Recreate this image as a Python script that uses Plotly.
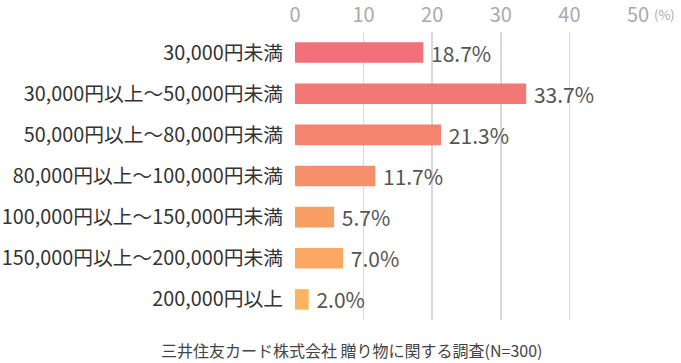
import plotly.graph_objects as go

categories = [
    "30,000円未満",
    "30,000円以上～50,000円未満",
    "50,000円以上～80,000円未満",
    "80,000円以上～100,000円未満",
    "100,000円以上～150,000円未満",
    "150,000円以上～200,000円未満",
    "200,000円以上",
]
values = [18.7, 33.7, 21.3, 11.7, 5.7, 7.0, 2.0]
bar_colors = ["#F0717A", "#F27775", "#F4846F", "#F6906A", "#F99F64", "#FBA862", "#FDB35F"]
tick_vals = [0, 10, 20, 30, 40, 50]
source_text = "三井住友カード株式会社 贈り物に関する調査(N=300)"

FONT = "Noto Sans CJK JP"

fig = go.Figure(go.Bar(
    x=values,
    y=categories,
    orientation="h",
    marker=dict(color=bar_colors, line=dict(width=0)),
    text=[f" {v:.1f}%" for v in values],
    textposition="outside",
    constraintext="none",
    textfont=dict(family=FONT, size=21, color="#555555"),
    cliponaxis=False,
    hoverinfo="skip",
))

fig.update_layout(
    width=681, height=363,
    margin=dict(l=295, r=43, t=32, b=43, autoexpand=False),
    paper_bgcolor="white", plot_bgcolor="white",
    bargap=0.5,
    showlegend=False,
    font=dict(family=FONT),
    xaxis=dict(
        side="top", range=[0, 50], tickvals=tick_vals,
        showgrid=True, gridcolor="#d9d9d9", gridwidth=1.5,
        zeroline=False, showline=False, automargin=False,
        tickfont=dict(family=FONT, size=20, color="#aaaaaa"),
        ticks="", ticklabelstandoff=5,
    ),
    yaxis=dict(
        autorange="reversed", showgrid=False, zeroline=False, showline=False,
        automargin=False,
        tickfont=dict(family=FONT, size=19.8, color="#333333"),
        ticks="", ticklabelstandoff=11,
    ),
    annotations=[
        dict(text="(%)", xref="paper", yref="paper", x=1.0, y=1.0, xshift=14,
             yshift=18, xanchor="left", yanchor="middle", showarrow=False,
             font=dict(family=FONT, size=13, color="#aaaaaa")),
        dict(text=source_text, xref="paper", yref="paper", x=(352 - 295) / 343, y=0,
             yshift=-30, xanchor="center", yanchor="middle", showarrow=False,
             font=dict(family=FONT, size=16, color="#444444")),
    ],
)

fig.write_html(
    "out.html",
    config={"displayModeBar": False, "staticPlot": True},
    post_script="document.body.style.margin='0';document.body.style.overflow='hidden';",
)
